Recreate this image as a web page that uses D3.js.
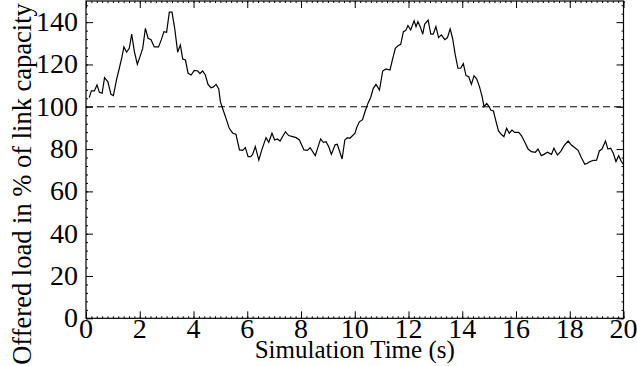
<!DOCTYPE html>
<html>
<head>
<meta charset="utf-8">
<script src="https://cdn.jsdelivr.net/npm/d3@7"></script>
<style>
  body { margin: 0; background: #fff; }
  svg text { font-family: "Liberation Serif", "Times New Roman", serif; fill: #000; }
</style>
</head>
<body>
<svg id="chart" width="637" height="366"></svg>
<script>
// data
var time = [0.12,0.20,0.31,0.41,0.50,0.60,0.69,0.81,0.93,1.02,1.14,1.24,1.34,1.41,1.51,1.61,1.70,1.80,1.91,2.01,
  2.11,2.21,2.31,2.42,2.54,2.70,2.80,2.90,3.00,3.10,3.20,3.30,3.41,3.51,3.60,3.70,3.80,3.91,4.03,4.16,
  4.24,4.34,4.44,4.54,4.65,4.74,4.84,4.94,5.00,5.08,5.21,5.33,5.46,5.58,5.71,5.83,5.93,6.03,6.13,6.20,
  6.30,6.43,6.55,6.70,6.80,6.92,7.02,7.12,7.22,7.42,7.54,7.69,7.82,7.94,8.11,8.24,8.34,8.53,8.73,8.83,
  8.93,9.03,9.13,9.27,9.35,9.53,9.63,9.73,9.82,10.01,10.07,10.17,10.29,10.39,10.49,10.59,10.69,10.79,10.92,11.04,
  11.16,11.31,11.41,11.51,11.61,11.71,11.81,11.90,11.98,12.08,12.21,12.28,12.35,12.45,12.53,12.60,12.73,12.83,12.92,13.02,
  13.12,13.22,13.35,13.45,13.55,13.64,13.74,13.84,13.94,14.04,14.14,14.24,14.34,14.44,14.54,14.64,14.74,14.81,14.91,15.00,
  15.06,15.16,15.26,15.35,15.45,15.55,15.65,15.75,15.85,15.95,16.10,16.20,16.32,16.45,16.57,16.72,16.82,16.94,17.04,17.17,
  17.32,17.41,17.54,17.66,17.79,17.94,18.06,18.18,18.31,18.43,18.56,18.66,18.75,18.90,19.00,19.10,19.20,19.33,19.42,19.52,
  19.62,19.72,19.82,19.92,20.00];
var load = [104.3,107.5,107.5,110.3,106.8,106.4,113.8,111.9,105.9,105.3,113.1,118.2,123.7,128.3,125.8,127.6,134.3,126.1,120.1,123.7,
  127.6,137.1,132.4,131.7,128.3,128.3,131.6,135.5,135.2,144.7,144.7,137.1,125.8,129.2,122.6,122.1,115.8,115.0,117.2,116.9,
  115.7,116.9,115.0,110.6,109.0,109.4,110.6,108.4,102.4,99.3,94.5,89.8,87.5,87.0,79.6,79.4,80.7,76.4,76.4,77.5,
  81.2,74.8,80.0,85.4,83.2,87.5,84.3,84.8,83.8,88.2,86.4,85.9,85.4,84.3,79.6,79.4,80.7,76.9,84.8,83.2,
  83.5,81.2,77.5,82.0,82.3,75.3,84.3,85.4,85.1,87.5,90.1,92.9,93.9,98.0,101.6,104.3,108.7,110.6,107.9,116.9,
  117.9,117.4,122.6,127.6,128.9,129.5,135.5,136.1,138.4,136.3,140.6,137.9,140.3,137.4,134.3,139.0,141.0,134.3,134.3,137.9,
  132.7,134.0,131.7,132.7,136.8,132.4,124.5,118.2,118.2,120.4,114.7,114.2,110.6,114.7,113.1,109.5,104.8,100.1,101.6,100.1,
  98.5,98.0,92.9,88.6,87.0,85.9,89.8,87.5,89.0,87.9,87.9,86.4,83.5,80.0,78.8,78.5,80.0,76.9,77.5,78.5,
  77.5,80.4,77.2,78.8,81.6,83.8,81.9,80.7,79.4,76.0,72.8,73.3,74.1,74.7,74.8,79.1,80.0,83.8,80.0,80.4,
  78.0,74.1,76.9,74.1,72.8];
var xTicks = [0,2,4,6,8,10,12,14,16,18,20];
var yTicks = [0,20,40,60,80,100,120,140];
var capacity = 100;

var svgx = 637, svgy = 366;
var margin = {top: 1, right: 13.5, bottom: 47.7, left: 86};
var w = svgx - margin.left - margin.right;
var h = svgy - margin.top - margin.bottom;

var svg = d3.select("#chart");
var g = svg.append("g").attr("transform", "translate(" + margin.left + "," + margin.top + ")");

var xscale = d3.scaleLinear().domain([0, 20]).range([0, w]);
var yscale = d3.scaleLinear().domain([0, 150]).range([h, 0]);

// minor ticks (inside, all sides)
var xMinor = d3.range(0, 20.001, 0.2);
var yMinor = d3.range(0, 150.001, 4);

function tickAxis(axis, ticks, size) {
  return axis.tickValues(ticks).tickSize(size).tickFormat("");
}

// bottom / top
g.append("g").attr("transform", "translate(0," + h + ")")
  .call(tickAxis(d3.axisTop(xscale), xMinor, 2));
g.append("g").attr("transform", "translate(0," + h + ")")
  .call(tickAxis(d3.axisTop(xscale), xTicks, 7));
g.append("g").call(tickAxis(d3.axisBottom(xscale), xMinor, 2));
g.append("g").call(tickAxis(d3.axisBottom(xscale), xTicks, 7));
// left / right
g.append("g").call(tickAxis(d3.axisRight(yscale), yMinor, 2));
g.append("g").call(tickAxis(d3.axisRight(yscale), yTicks, 7));
g.append("g").attr("transform", "translate(" + w + ",0)")
  .call(tickAxis(d3.axisLeft(yscale), yMinor, 2));
g.append("g").attr("transform", "translate(" + w + ",0)")
  .call(tickAxis(d3.axisLeft(yscale), yTicks, 7));

g.selectAll(".domain").remove();
g.selectAll(".tick line").attr("stroke", "#000").attr("stroke-width", 1);

// frame
g.append("rect")
  .attr("x", 0).attr("y", 0).attr("width", w).attr("height", h)
  .attr("fill", "none").attr("stroke", "#000").attr("stroke-width", 1.2);

// tick labels
g.selectAll(".xlab").data(xTicks).enter().append("text")
  .attr("x", function(d) { return xscale(d); })
  .attr("y", h + 20)
  .attr("font-size", "28px")
  .style("text-anchor", "middle")
  .text(function(d) { return d; });

g.selectAll(".ylab").data(yTicks).enter().append("text")
  .attr("x", -8)
  .attr("y", function(d) { return yscale(d) + 9; })
  .attr("font-size", "28px")
  .style("text-anchor", "end")
  .text(function(d) { return d; });

// 100% reference
g.append("line")
  .attr("x1", 0).attr("x2", w)
  .attr("y1", yscale(capacity)).attr("y2", yscale(capacity))
  .attr("stroke", "#000").attr("stroke-width", 1)
  .attr("stroke-dasharray", "7,4");

// load curve
var line = d3.line()
  .x(function(d, i) { return xscale(time[i]); })
  .y(function(d) { return yscale(d); });

g.append("path")
  .datum(load)
  .attr("d", line)
  .attr("fill", "none")
  .attr("stroke", "#000")
  .attr("stroke-width", 1.2);

// axis titles
svg.append("text")
  .attr("x", margin.left + w / 2)
  .attr("y", 358)
  .attr("font-size", "25px")
  .style("text-anchor", "middle")
  .text("Simulation Time (s)");

svg.append("text")
  .attr("transform", "translate(31," + 184 + ") rotate(-90)")
  .attr("font-size", "26.5px")
  .style("text-anchor", "middle")
  .text("Offered load in % of link capacity");
</script>
</body>
</html>
